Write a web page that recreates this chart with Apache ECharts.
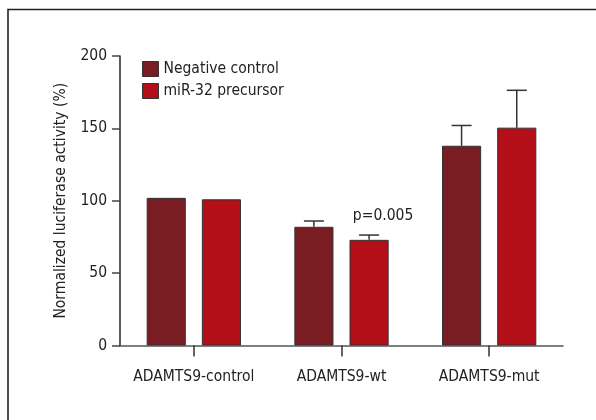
<!DOCTYPE html>
<html>
<head>
<meta charset="utf-8">
<script src="https://cdn.jsdelivr.net/npm/echarts@6/dist/echarts.min.js"></script>
<style>html,body{margin:0;padding:0;background:#fff}#c{width:596px;height:420px}</style>
</head>
<body>
<div id="c"></div>
<script>
const categories = ['ADAMTS9-control', 'ADAMTS9-wt', 'ADAMTS9-mut'];
const seriesNames = ['Negative control', 'miR-32 precursor'];
const negValues = [102, 82, 138];
const negErrTop = [null, 86, 152];
const mirValues = [101, 73, 150.5];
const mirErrTop = [null, 76.3, 176.3];
const yTicks = [0, 50, 100, 150, 200];
const annotation = { text: 'p=0.005', category: 'ADAMTS9-wt', value: 89.5 };

const FONT = '"DejaVu Sans Condensed", "Liberation Sans Narrow", sans-serif';
const FS = 15.5;
const colors = ['#7a1d22', '#b40f19'];
const BAR_W = 0.265, BAR_GAP = 0.41;

function errSeries(idx, vals, tops) {
  const data = vals.map((v, i) => [i, v, tops[i]]);
  return {
    type: 'custom',
    name: seriesNames[idx] + ' err',
    z: 3,
    data: data,
    renderItem: function (params, api) {
      const top = api.value(2);
      if (top === null || isNaN(top)) return;
      const ci = api.value(0);
      const band = api.size([1, 0])[0];
      const bw = band * BAR_W;
      const off = (bw + bw * BAR_GAP) / 2 * (idx === 0 ? -1 : 1);
      const p0 = api.coord([ci, api.value(1)]);
      const p1 = api.coord([ci, top]);
      const x = p0[0] + off;
      const half = 10;
      const st = { stroke: '#333', lineWidth: 1.5 };
      return {
        type: 'group',
        children: [
          { type: 'line', shape: { x1: x, y1: p0[1], x2: x, y2: p1[1] }, style: st },
          { type: 'line', shape: { x1: x - half, y1: p1[1], x2: x + half, y2: p1[1] }, style: st }
        ]
      };
    },
    silent: true
  };
}

const chart = echarts.init(document.getElementById('c'), null, { renderer: 'canvas' });
chart.setOption({
  animation: false,
  textStyle: { fontFamily: FONT },
  graphic: [{
    type: 'polyline',
    shape: { points: [[8, 430], [8, 9.5], [606, 9.5]] },
    style: { stroke: '#222', lineWidth: 1.6, fill: null },
    silent: true
  }],
  legend: {
    data: seriesNames,
    orient: 'vertical',
    left: 142,
    top: 61,
    padding: 0,
    itemWidth: 16,
    itemHeight: 15,
    itemGap: 6,
    icon: 'rect',
    textStyle: { fontFamily: FONT, fontSize: FS, color: '#222' },
    itemStyle: { borderColor: '#333', borderWidth: 1 }
  },
  grid: { left: 120, right: 33, top: 56, bottom: 74.5, containLabel: false },
  xAxis: {
    type: 'category',
    data: categories,
    axisLine: { lineStyle: { color: '#555', width: 1.6 } },
    axisTick: { show: true, alignWithLabel: true, length: 11, lineStyle: { color: '#333', width: 1.5 } },
    axisLabel: { interval: 0, fontFamily: FONT, fontSize: FS, color: '#222', margin: 23 }
  },
  yAxis: {
    type: 'value',
    min: 0, max: 200, interval: 50,
    name: 'Normalized luciferase activity (%)',
    nameLocation: 'middle',
    nameGap: 51,
    nameTextStyle: { fontFamily: FONT, fontSize: FS, color: '#222' },
    splitLine: { show: false },
    axisLine: { show: true, lineStyle: { color: '#333', width: 1.6 } },
    axisTick: { show: true, length: 8, lineStyle: { color: '#444', width: 1.5 } },
    axisLabel: {
      fontFamily: FONT, fontSize: FS, color: '#222', margin: 13,
      formatter: function (v) { return yTicks.indexOf(v) >= 0 ? String(v) : ''; }
    }
  },
  series: [
    {
      name: seriesNames[0], type: 'bar', data: negValues,
      barWidth: (BAR_W * 100) + '%', barGap: (BAR_GAP * 100) + '%',
      itemStyle: { color: colors[0], borderColor: '#333', borderWidth: 1 }
    },
    {
      name: seriesNames[1], type: 'bar', data: mirValues,
      barWidth: (BAR_W * 100) + '%', barGap: (BAR_GAP * 100) + '%',
      itemStyle: { color: colors[1], borderColor: '#333', borderWidth: 1 },
      markPoint: {
        symbol: 'circle', symbolSize: 0,
        data: [{ coord: [annotation.category, annotation.value] }],
        label: {
          show: true, formatter: annotation.text, position: 'inside',
          offset: [14, 0], fontFamily: FONT, fontSize: FS, color: '#222'
        }
      }
    },
    errSeries(0, negValues, negErrTop),
    errSeries(1, mirValues, mirErrTop)
  ]
});
</script>
</body>
</html>
